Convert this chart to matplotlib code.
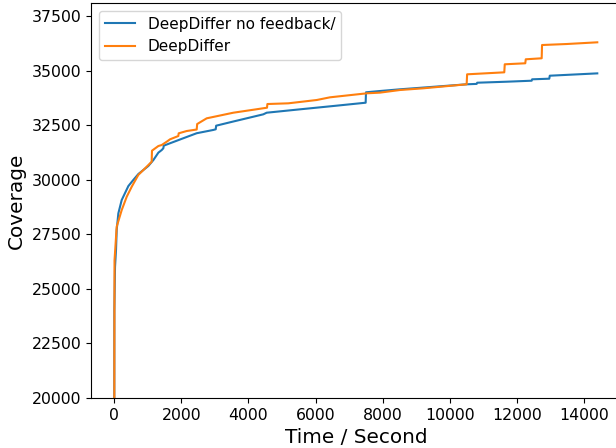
import matplotlib
matplotlib.use("Agg")
import matplotlib.pyplot as plt

# Series: DeepDiffer no feedback/
t_nofb = [0, 10, 30, 60, 80, 129, 229, 427, 575, 724, 1022, 1171, 1320, 1420, 1468, 1480,
          1667, 2063, 2461, 2955, 3027, 3040, 3551, 4444, 4544, 5536, 6527, 7490, 7500,
          7917, 8512, 9206, 10496, 10794, 10810, 11687, 12431, 12445, 12955, 12970, 14384]
v_nofb = [1000, 24000, 26000, 26800, 27700, 28460, 29070, 29710, 29990, 30260, 30630, 30900,
          31240, 31360, 31440, 31560, 31670, 31900, 32130, 32280, 32310, 32475, 32667, 32996,
          33070, 33225, 33377, 33528, 34005, 34064, 34142, 34222, 34371, 34390, 34444, 34490,
          34536, 34600, 34628, 34765, 34872]

# Series: DeepDiffer
t_fb = [0, 10, 15, 80, 229, 378, 527, 724, 923, 1121, 1130, 1320, 1420, 1568, 1667, 1914,
        1925, 2163, 2461, 2475, 2560, 2759, 3551, 4554, 4565, 5188, 6033, 6429, 7520, 7917,
        8512, 9206, 10496, 10510, 11616, 11630, 12241, 12255, 12729, 12740, 13473, 14384]
v_fb = [1000, 22000, 26300, 27850, 28610, 29220, 29680, 30220, 30520, 30825, 31330, 31544,
        31590, 31741, 31851, 32002, 32126, 32231, 32300, 32550, 32630, 32813, 33070, 33299,
        33468, 33500, 33652, 33775, 33958, 33990, 34110, 34188, 34371, 34829, 34920, 35288,
        35334, 35517, 35563, 36171, 36217, 36295]

labels = ["DeepDiffer no feedback/", "DeepDiffer"]

fig = plt.figure(figsize=(6.16, 4.48), dpi=100)
W, H = 616, 448
left, right, top, bottom = 91, 621, 3, 398
ax = fig.add_axes([left / W, (H - bottom) / H, (right - left) / W, (bottom - top) / H])

ax.plot(t_nofb, v_nofb, color="#1f77b4", lw=1.5, label=labels[0])
ax.plot(t_fb, v_fb, color="#ff7f0e", lw=1.5, label=labels[1])

ax.set_xlim(-685, 15090)
ax.set_ylim(20000, 38096)
ax.set_xticks(range(0, 14001, 2000))
ax.set_yticks([20000, 22500, 25000, 27500, 30000, 32500, 35000, 37500])
ax.tick_params(labelsize=11.3)
ax.set_xlabel("Time / Second", fontsize=14.4)
ax.set_ylabel("Coverage", fontsize=14.4)
ax.legend(loc="upper left", fontsize=11)

fig.savefig("out.png", dpi=100)
